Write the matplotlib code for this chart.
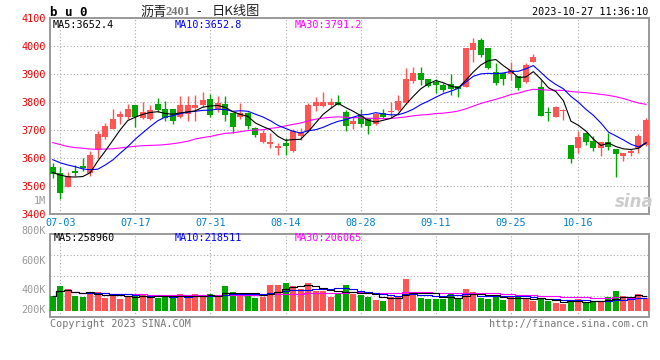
import numpy as np
import pandas as pd
import matplotlib
matplotlib.use('Agg')
import matplotlib.pyplot as plt

# bu0 daily bars, 2023-06-30 .. 2023-10-27 (80 sessions)
opens = [3569, 3545, 3498, 3555, 3571, 3548, 3629, 3676, 3704, 3745,
         3745, 3789, 3742, 3738, 3793, 3776, 3774, 3745, 3757, 3777,
         3789, 3811, 3774, 3793, 3759, 3748, 3762, 3708, 3658, 3649,
         3637, 3655, 3626, 3679, 3698, 3787, 3787, 3790, 3801, 3764,
         3723, 3751, 3742, 3720, 3760, 3763, 3771, 3795, 3875, 3905,
         3882, 3873, 3861, 3864, 3858, 3855, 3986, 4021, 3994, 3907,
         3905, 3900, 3894, 3873, 3944, 3855, 3763, 3748, 3768, 3646,
         3637, 3688, 3661, 3637, 3656, 3632, 3608, 3617, 3635, 3646]
highs = [3583, 3569, 3550, 3575, 3599, 3626, 3696, 3724, 3774, 3769,
         3793, 3789, 3801, 3789, 3813, 3802, 3776, 3823, 3823, 3824,
         3836, 3829, 3821, 3821, 3759, 3798, 3765, 3712, 3700, 3690,
         3652, 3673, 3704, 3706, 3795, 3819, 3837, 3813, 3825, 3771,
         3745, 3774, 3743, 3760, 3774, 3801, 3825, 3920, 3924, 3926,
         3882, 3883, 3869, 3900, 3858, 3992, 4027, 4027, 3994, 3938,
         3905, 3943, 3894, 3938, 3971, 3879, 3781, 3786, 3774, 3646,
         3698, 3688, 3679, 3658, 3690, 3632, 3619, 3631, 3686, 3744]
lows = [3527, 3452, 3495, 3537, 3555, 3537, 3599, 3667, 3702, 3721,
        3738, 3712, 3738, 3736, 3765, 3733, 3721, 3742, 3733, 3733,
        3781, 3745, 3765, 3733, 3690, 3738, 3702, 3674, 3655, 3636,
        3611, 3611, 3623, 3664, 3694, 3767, 3781, 3779, 3788, 3698,
        3705, 3710, 3687, 3718, 3742, 3748, 3769, 3793, 3869, 3861,
        3855, 3833, 3837, 3825, 3819, 3852, 3944, 3962, 3917, 3861,
        3861, 3879, 3843, 3867, 3942, 3751, 3733, 3745, 3736, 3583,
        3619, 3646, 3626, 3607, 3629, 3531, 3591, 3607, 3617, 3644]
closes = [3543, 3476, 3536, 3548, 3566, 3611, 3685, 3714, 3738, 3757,
          3775, 3745, 3765, 3771, 3771, 3742, 3733, 3789, 3789, 3790,
          3807, 3754, 3798, 3754, 3712, 3762, 3715, 3682, 3690, 3656,
          3643, 3644, 3696, 3694, 3789, 3800, 3800, 3800, 3788, 3714,
          3733, 3723, 3715, 3757, 3745, 3767, 3802, 3881, 3905, 3879,
          3857, 3861, 3843, 3846, 3845, 3992, 4009, 3968, 3923, 3867,
          3883, 3914, 3851, 3932, 3962, 3751, 3760, 3781, 3771, 3595,
          3676, 3658, 3637, 3658, 3638, 3613, 3617, 3626, 3679, 3736]
# volume, thousand lots
volumes = [252, 420, 370, 252, 235, 286, 319, 218, 286, 202,
           235, 269, 286, 218, 218, 264, 235, 286, 218, 286,
           269, 286, 235, 420, 319, 269, 269, 223, 240, 437,
           437, 470, 420, 370, 470, 336, 336, 240, 281, 437,
           281, 269, 240, 185, 168, 240, 240, 538, 297, 223,
           207, 207, 207, 302, 207, 370, 324, 223, 197, 240,
           190, 240, 240, 207, 168, 207, 168, 134, 118, 173,
           207, 151, 151, 168, 235, 336, 247, 207, 281, 223]

# moving averages at the left edge need sessions before the window
ma5_head = [3548, 3539, 3533, 3532]
ma10_head = [3594, 3583, 3575, 3569, 3561, 3558, 3560, 3575, 3593]
ma30_head = [3655, 3648, 3641, 3637, 3635, 3632, 3631, 3632, 3633, 3636,
             3639, 3642, 3644, 3645, 3646, 3648, 3651, 3655, 3660, 3668,
             3673, 3677, 3683, 3688, 3690, 3694, 3698, 3700, 3701]

date_labels = ['07-03', '07-17', '07-31', '08-14', '08-28', '09-11', '09-25', '10-16']
date_index = [1, 11, 21, 31, 41, 51, 61, 70]
price_ticks = [3400, 3500, 3600, 3700, 3800, 3900, 4000, 4100]
vol_labels = ['800K', '600K', '400K', '200K']

W, H = 660, 360
RED, GREEN = '#FF5555', '#00A600'
GRID = dict(color='#AAAAAA', linestyle=(0, (1, 2)), linewidth=0.8)
MONO = 'DejaVu Sans Mono'
CJK = ['Noto Sans CJK SC', 'DejaVu Sans']
plt.rcParams['font.family'] = [MONO]


def fx(x):
    return x / W


def fy(y):
    return 1 - y / H


n = len(closes)
x = np.arange(n)
o = np.array(opens, float)
c = np.array(closes, float)
up = c >= o
colors = np.where(up, RED, GREEN)

cs = pd.Series(c)
ma5 = cs.rolling(5).mean().to_numpy()
ma5[:4] = ma5_head
ma10 = cs.rolling(10).mean().to_numpy()
ma10[:9] = ma10_head
ma30 = cs.rolling(30).mean().to_numpy()
ma30[:29] = ma30_head

vs = pd.Series(volumes, dtype=float)
vma5 = vs.rolling(5, min_periods=1).mean()
vma10 = vs.rolling(10, min_periods=1).mean()
vma30 = vs.rolling(30, min_periods=1).mean()

fig = plt.figure(figsize=(W / 100, H / 100), dpi=100)
ax = fig.add_axes([fx(50), fy(214), fx(599), 196 / H])
axv = fig.add_axes([fx(50), fy(317), fx(599), 83 / H])

# price panel
ax.vlines(x, lows, highs, colors=colors, linewidth=1, zorder=2)
body = np.maximum(np.abs(c - o), 2)
ax.bar(x, body, bottom=np.minimum(o, c), width=0.8, color=colors, zorder=3)
ax.plot(x, ma30, color='#FF00FF', linewidth=0.8, zorder=4)
ax.plot(x, ma10, color='#0000FF', linewidth=0.8, zorder=4)
ax.plot(x, ma5, color='black', linewidth=0.8, zorder=4)

xlim = (-0.36, 79.4)
ax.set_xlim(*xlim)
ax.set_ylim(3400, 4100)
ax.set_yticks(price_ticks)
ax.set_xticks(date_index, date_labels)
ax.tick_params(axis='y', colors='#EE0000', labelsize=7.3, length=0, pad=3)
ax.tick_params(axis='x', colors='#0080CC', labelsize=7.3, length=0, pad=3)
ax.grid(True, **GRID)
ax.set_axisbelow(True)

# volume panel
axv.bar(x, volumes, width=0.8, color=colors, zorder=3)
axv.plot(x, vma30, color='#FF00FF', linewidth=0.8, drawstyle='steps-mid', zorder=4)
axv.plot(x, vma10, color='#0000FF', linewidth=0.8, drawstyle='steps-mid', zorder=4)
axv.plot(x, vma5, color='black', linewidth=0.8, drawstyle='steps-mid', zorder=4)
axv.set_xlim(*xlim)
vlo, vhi = -101, 1294
axv.set_ylim(vlo, vhi)
axv.set_xticks(date_index)
axv.set_yticks([vlo + (vhi - vlo) * k / 4 for k in (1, 2, 3)])
axv.tick_params(length=0, labelbottom=False, labelleft=False)
axv.grid(True, **GRID)
axv.set_axisbelow(True)
for frac, lab in zip([1.036, 0.675, 0.325, 0.084], vol_labels):
    axv.text(-0.007, frac, lab, transform=axv.transAxes, ha='right', va='center',
             color='#999999', fontsize=7.3)

for a in (ax, axv):
    for s in a.spines.values():
        s.set_color('#999999')
        s.set_linewidth(1.4)

# header and legends
fig.text(fx(50), fy(12), 'b u 0', fontsize=9, fontweight='bold', va='center', family=MONO)
fig.text(fx(140), fy(12), '沥青', fontsize=9.5, va='center', family=CJK, color='#222222')
fig.text(fx(166), fy(12), '2401', fontsize=9, va='center', family='Liberation Serif',
         fontweight='bold', color='#777777')
fig.text(fx(196), fy(12), '-', fontsize=9.5, va='center', family=CJK, color='#222222')
fig.text(fx(212), fy(12), '日K线图', fontsize=9.5, va='center', family=CJK, color='#222222')
fig.text(fx(648), fy(12), '2023-10-27 11:36:10', fontsize=7.3, ha='right', va='center')

fig.text(fx(53), fy(25), 'MA5:3652.4', fontsize=7.3, va='center', color='black')
fig.text(fx(175), fy(25), 'MA10:3652.8', fontsize=7.3, va='center', color='#0000FF')
fig.text(fx(295), fy(25), 'MA30:3791.2', fontsize=7.3, va='center', color='#FF00FF')
fig.text(fx(54), fy(238), 'MA5:258960', fontsize=7.3, va='center', color='black')
fig.text(fx(175), fy(238), 'MA10:218511', fontsize=7.3, va='center', color='#0000FF')
fig.text(fx(295), fy(238), 'MA30:206065', fontsize=7.3, va='center', color='#FF00FF')

fig.text(fx(46), fy(201), '1M', fontsize=7.3, ha='right', va='center', color='#999999')
fig.text(fx(634), fy(202), 'sina', fontsize=12, ha='center', va='center',
         style='italic', fontweight='bold', color='#CCCCCC', family='DejaVu Sans')

fig.text(fx(50), fy(324), 'Copyright 2023 SINA.COM', fontsize=7.3, va='center', color='#777777')
fig.text(fx(648), fy(324), 'http://finance.sina.com.cn', fontsize=7.3, ha='right',
         va='center', color='#777777')

fig.savefig('out.png', dpi=100)
